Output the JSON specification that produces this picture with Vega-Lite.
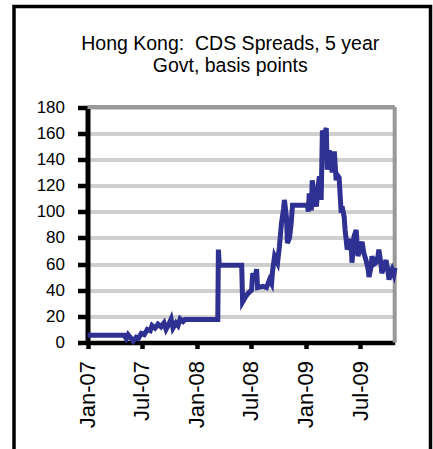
{
  "$schema": "https://vega.github.io/schema/vega-lite/v6.json",
  "autosize": "none",
  "padding": {"left": 14, "top": 6.5, "right": 2.5, "bottom": 0},
  "width": 416.5,
  "height": 446,
  "background": "white",
  "title": {
    "text": ["Hong Kong:\u00a0 CDS Spreads, 5 year", "Govt, basis points"],
    "fontSize": 19.5,
    "font": "Liberation Sans",
    "fontWeight": "normal",
    "color": "black",
    "lineHeight": 22,
    "anchor": "middle",
    "offset": -70.4,
    "dx": 8
  },
  "config": {
    "view": {"stroke": "black", "strokeWidth": 3.5},
    "axis": {
      "labelFont": "Liberation Sans",
      "labelColor": "black",
      "tickColor": "black",
      "domainColor": "black",
      "title": null
    },
    "axisX": {
      "labelAngle": -90,
      "labelAlign": "right",
      "labelBaseline": "middle",
      "labelFontSize": 22,
      "labelPadding": 12,
      "labelFlush": false,
      "labelOverlap": false,
      "tickSize": 6,
      "tickWidth": 4.5,
      "domainWidth": 4.5,
      "grid": false
    },
    "axisY": {
      "labelFontSize": 17,
      "labelPadding": 13,
      "tickSize": 10,
      "tickWidth": 4.5,
      "domainWidth": 5,
      "grid": true,
      "gridColor": "#cfcfcf",
      "gridWidth": 4
    }
  },
  "data": {
    "values": [
      {"d": "2007-01-01", "v": 5.5},
      {"d": "2007-05-04", "v": 5.5},
      {"d": "2007-05-11", "v": 3},
      {"d": "2007-05-17", "v": 6},
      {"d": "2007-05-24", "v": 4},
      {"d": "2007-06-03", "v": 1},
      {"d": "2007-06-13", "v": 4},
      {"d": "2007-06-20", "v": 3},
      {"d": "2007-06-30", "v": 7},
      {"d": "2007-07-10", "v": 6},
      {"d": "2007-07-20", "v": 10},
      {"d": "2007-07-30", "v": 9},
      {"d": "2007-08-05", "v": 13},
      {"d": "2007-08-15", "v": 11},
      {"d": "2007-08-25", "v": 14},
      {"d": "2007-09-04", "v": 12},
      {"d": "2007-09-14", "v": 15},
      {"d": "2007-09-21", "v": 10},
      {"d": "2007-09-28", "v": 13},
      {"d": "2007-10-08", "v": 18},
      {"d": "2007-10-14", "v": 11},
      {"d": "2007-10-24", "v": 15},
      {"d": "2007-10-31", "v": 13},
      {"d": "2007-11-07", "v": 18},
      {"d": "2007-11-17", "v": 16},
      {"d": "2007-11-23", "v": 17.5},
      {"d": "2008-03-12", "v": 17.5},
      {"d": "2008-03-14", "v": 71},
      {"d": "2008-03-17", "v": 59},
      {"d": "2008-05-31", "v": 59},
      {"d": "2008-06-03", "v": 31},
      {"d": "2008-06-13", "v": 35},
      {"d": "2008-06-23", "v": 38},
      {"d": "2008-07-03", "v": 40},
      {"d": "2008-07-07", "v": 53},
      {"d": "2008-07-13", "v": 48},
      {"d": "2008-07-20", "v": 56},
      {"d": "2008-07-23", "v": 42},
      {"d": "2008-08-09", "v": 43},
      {"d": "2008-08-22", "v": 42},
      {"d": "2008-09-01", "v": 48},
      {"d": "2008-09-08", "v": 45},
      {"d": "2008-09-11", "v": 54},
      {"d": "2008-09-18", "v": 66},
      {"d": "2008-09-28", "v": 61},
      {"d": "2008-10-04", "v": 73},
      {"d": "2008-10-11", "v": 91},
      {"d": "2008-10-18", "v": 102},
      {"d": "2008-10-21", "v": 109},
      {"d": "2008-10-28", "v": 95},
      {"d": "2008-10-31", "v": 76},
      {"d": "2008-11-07", "v": 80},
      {"d": "2008-11-13", "v": 92},
      {"d": "2008-11-17", "v": 105},
      {"d": "2009-01-06", "v": 105},
      {"d": "2009-01-09", "v": 100},
      {"d": "2009-01-12", "v": 114},
      {"d": "2009-01-19", "v": 101},
      {"d": "2009-01-22", "v": 124},
      {"d": "2009-01-29", "v": 110},
      {"d": "2009-02-05", "v": 104},
      {"d": "2009-02-11", "v": 120},
      {"d": "2009-02-15", "v": 127},
      {"d": "2009-02-21", "v": 109},
      {"d": "2009-02-25", "v": 162},
      {"d": "2009-03-03", "v": 158},
      {"d": "2009-03-10", "v": 164},
      {"d": "2009-03-13", "v": 132},
      {"d": "2009-03-20", "v": 147},
      {"d": "2009-03-23", "v": 140},
      {"d": "2009-03-30", "v": 130},
      {"d": "2009-04-06", "v": 146},
      {"d": "2009-04-12", "v": 124},
      {"d": "2009-04-16", "v": 128},
      {"d": "2009-04-22", "v": 126},
      {"d": "2009-04-29", "v": 99},
      {"d": "2009-05-02", "v": 104},
      {"d": "2009-05-09", "v": 96},
      {"d": "2009-05-12", "v": 86},
      {"d": "2009-05-19", "v": 71},
      {"d": "2009-05-25", "v": 75},
      {"d": "2009-06-01", "v": 79},
      {"d": "2009-06-04", "v": 61},
      {"d": "2009-06-11", "v": 81},
      {"d": "2009-06-18", "v": 86},
      {"d": "2009-06-24", "v": 66},
      {"d": "2009-07-01", "v": 72},
      {"d": "2009-07-08", "v": 77},
      {"d": "2009-07-14", "v": 68},
      {"d": "2009-07-21", "v": 63},
      {"d": "2009-07-28", "v": 56},
      {"d": "2009-07-31", "v": 50},
      {"d": "2009-08-07", "v": 58},
      {"d": "2009-08-10", "v": 66},
      {"d": "2009-08-17", "v": 60},
      {"d": "2009-08-23", "v": 61},
      {"d": "2009-08-30", "v": 66},
      {"d": "2009-09-02", "v": 71},
      {"d": "2009-09-09", "v": 60},
      {"d": "2009-09-12", "v": 53},
      {"d": "2009-09-19", "v": 58},
      {"d": "2009-09-26", "v": 63},
      {"d": "2009-10-02", "v": 55},
      {"d": "2009-10-06", "v": 48},
      {"d": "2009-10-12", "v": 54},
      {"d": "2009-10-16", "v": 56},
      {"d": "2009-10-22", "v": 52},
      {"d": "2009-10-26", "v": 57}
    ]
  },
  "layer": [
    {
      "data": {"values": [{}]},
      "mark": {"type": "rule", "color": "#999999", "strokeWidth": 4},
      "encoding": {
        "x": {"datum": {"year": 2009, "month": "oct", "date": 25, "utc": true}, "type": "temporal"},
        "y": {"datum": 180, "type": "quantitative"},
        "x2": {"datum": {"year": 2007, "month": "jan", "date": 1, "utc": true}}
      }
    },
    {
      "data": {"values": [{}]},
      "mark": {"type": "rule", "color": "#999999", "strokeWidth": 4},
      "encoding": {
        "x": {"datum": {"year": 2009, "month": "oct", "date": 25, "utc": true}, "type": "temporal"},
        "y": {"datum": 0, "type": "quantitative"},
        "y2": {"datum": 180}
      }
    },
    {
      "mark": {"type": "line", "color": "#2e3092", "strokeWidth": 5, "clip": false},
      "encoding": {
        "x": {
          "field": "d",
          "type": "temporal",
          "scale": {
            "type": "utc",
            "domain": [
              {"year": 2007, "month": "jan", "date": 1, "utc": true},
              {"year": 2009, "month": "oct", "date": 25, "utc": true}
            ],
            "range": [73.5, 380.7],
            "nice": false
          },
          "axis": {
            "orient": "bottom",
            "offset": -110,
            "values": [
              {"year": 2007, "month": "jan", "date": 1, "utc": true},
              {"year": 2007, "month": "jul", "date": 1, "utc": true},
              {"year": 2008, "month": "jan", "date": 1, "utc": true},
              {"year": 2008, "month": "jul", "date": 1, "utc": true},
              {"year": 2009, "month": "jan", "date": 1, "utc": true},
              {"year": 2009, "month": "jul", "date": 1, "utc": true}
            ],
            "labelExpr": "utcFormat(datum.value, '%b-%y')",
            "title": null
          }
        },
        "y": {
          "field": "v",
          "type": "quantitative",
          "scale": {"domain": [0, 180], "range": [336, 100.5], "nice": false},
          "axis": {
            "orient": "left",
            "offset": -73.5,
            "values": [0, 20, 40, 60, 80, 100, 120, 140, 160, 180],
            "title": null
          }
        }
      }
    }
  ]
}
